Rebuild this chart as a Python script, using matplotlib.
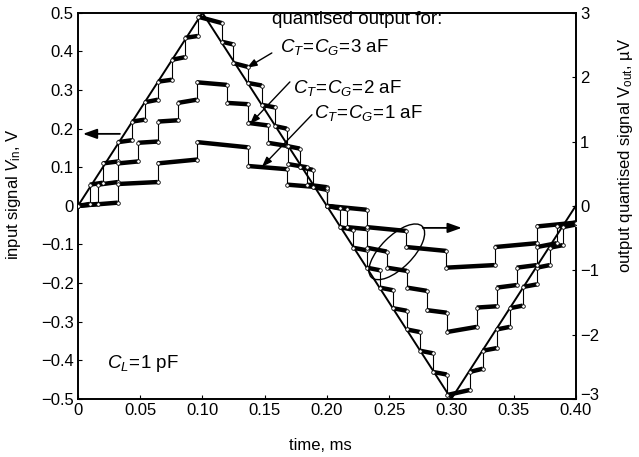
import matplotlib
matplotlib.use("Agg")
import matplotlib.pyplot as plt
from matplotlib.patches import Ellipse
from matplotlib.transforms import IdentityTransform, offset_copy

plt.rcParams['font.family'] = ['Liberation Sans', 'DejaVu Sans']
plt.rcParams['mathtext.fontset'] = 'custom'
plt.rcParams['mathtext.rm'] = 'Liberation Sans'
plt.rcParams['mathtext.it'] = 'Liberation Sans:italic'
plt.rcParams['font.size'] = 12

# input triangle (ms, V)
t_in = [0, 0.1, 0.3, 0.4]
v_in = [0, 0.5, -0.5, 0]

# quantised outputs (uV): jump times in ms, level at start / end of each flat run
jumps_3af = [0.0096, 0.0201, 0.0321, 0.0434, 0.0538, 0.0643, 0.0755, 0.0859, 0.0964,
             0.1157, 0.1245, 0.1365, 0.1478, 0.1582, 0.1679, 0.1783, 0.1888, 0.2000,
             0.2104, 0.2209, 0.2321, 0.2426, 0.2530, 0.2643, 0.2747, 0.2851, 0.2964,
             0.3149, 0.3253, 0.3365, 0.3470, 0.3574, 0.3687, 0.3791, 0.3896]
start_3af = [0, 0.33, 0.66, 0.99, 1.31, 1.61, 1.93, 2.27, 2.61, 2.94,
             2.55, 2.22, 1.91, 1.57, 1.24, 0.93, 0.60, 0.29, 0.0, -0.33, -0.65,
             -0.96, -1.27, -1.59, -1.92, -2.25, -2.58, -2.94,
             -2.58, -2.25, -1.92, -1.59, -1.26, -0.96, -0.65, -0.33]
end_3af = [0.03, 0.36, 0.69, 1.02, 1.34, 1.65, 1.96, 2.31, 2.64, 2.84,
           2.51, 2.16, 1.87, 1.53, 1.20, 0.89, 0.56, 0.25, -0.04, -0.37, -0.69,
           -1.00, -1.31, -1.63, -1.96, -2.29, -2.62, -2.86,
           -2.53, -2.21, -1.88, -1.55, -1.22, -0.92, -0.61, -0.29]

jumps_2af = [0.0161, 0.0321, 0.0482, 0.0643, 0.0803, 0.0956,
             0.1197, 0.1365, 0.1526, 0.1687, 0.1839, 0.2000, 0.2161, 0.2321,
             0.2482, 0.2643, 0.2803, 0.2964,
             0.3205, 0.3365, 0.3526, 0.3687, 0.3847]
start_2af = [0, 0.33, 0.66, 0.98, 1.31, 1.60, 1.92,
             1.60, 1.29, 0.98, 0.65, 0.33, 0.0, -0.33, -0.65, -0.96, -1.27, -1.62,
             -1.96, -1.58, -1.27, -0.96, -0.64, -0.32]
end_2af = [0.03, 0.37, 0.69, 1.00, 1.33, 1.65, 1.88,
           1.58, 1.25, 0.93, 0.60, 0.29, -0.05, -0.36, -0.71, -1.01, -1.32, -1.66,
           -1.88, -1.56, -1.23, -0.92, -0.58, -0.26]

jumps_1af = [0.032, 0.064, 0.096, 0.1365, 0.168, 0.200, 0.232, 0.264, 0.296,
             0.3349, 0.3687]
start_1af = [0, 0.34, 0.66, 0.99, 0.62, 0.33, 0.0, -0.33, -0.64, -0.96, -0.64, -0.32]
end_1af = [0.05, 0.37, 0.72, 0.91, 0.57, 0.28, -0.06, -0.39, -0.70, -0.92, -0.58, -0.26]

x_ticks = [0, 0.05, 0.10, 0.15, 0.20, 0.25, 0.30, 0.35, 0.40]
x_labels = ['0', '0.05', '0.10', '0.15', '0.20', '0.25', '0.30', '0.35', '0.40']
yl_ticks = [0.5, 0.4, 0.3, 0.2, 0.1, 0, -0.1, -0.2, -0.3, -0.4, -0.5]
yl_labels = ['0.5', '0.4', '0.3', '0.2', '0.1', '0', '\u22120.1', '\u22120.2',
             '\u22120.3', '\u22120.4', '\u22120.5']
yr_ticks = [3, 2, 1, 0, -1, -2, -3]
yr_labels = ['3', '2', '1', '0', '\u22121', '\u22122', '\u22123']


def draw_staircase(ax, jumps, starts, ends):
    """thick flat runs, thin vertical jumps, open circles at run ends"""
    edges = [0.0] + jumps + [0.4]
    for i in range(len(starts)):
        ax.plot([edges[i], edges[i + 1]], [starts[i], ends[i]], color='black',
                lw=3.2, solid_capstyle='butt', zorder=3)
        if i + 1 < len(starts):
            ax.plot([edges[i + 1]] * 2, [ends[i], starts[i + 1]], color='black',
                    lw=0.8, zorder=2)
    kw = dict(ls='none', marker='o', ms=2.6, mfc='white', mec='black', mew=0.6, zorder=4)
    ax.plot(edges[:-1], starts, **kw)
    ax.plot(edges[1:], ends, **kw)


fig = plt.figure(figsize=(6.39, 4.57), dpi=100)
ax = fig.add_subplot(111)
fig.subplots_adjust(left=0.122, right=0.901, bottom=0.127, top=0.972)
ax2 = ax.twinx()

ax.plot(t_in, v_in, color='black', lw=1.4, zorder=2)
ax.set_xlim(0, 0.4)
ax.set_ylim(-0.5, 0.5)
ax2.set_ylim(-3, 3)

draw_staircase(ax2, jumps_3af, start_3af, end_3af)
draw_staircase(ax2, jumps_2af, start_2af, end_2af)
draw_staircase(ax2, jumps_1af, start_1af, end_1af)

ax.set_xticks(x_ticks)
ax.set_xticklabels(x_labels)
ax.set_yticks(yl_ticks)
ax.set_yticklabels(yl_labels)
ax2.set_yticks(yr_ticks)
ax2.set_yticklabels(yr_labels)
for a in (ax, ax2):
    a.tick_params(direction='in', length=3, width=0.8, labelsize=12, pad=3)
    for s in a.spines.values():
        s.set_linewidth(1.2)

# the bottom right label sits a little raised, clear of "0.40"
fig.canvas.draw()
low = ax2.get_yticklabels()[-1]
low.set_transform(offset_copy(low.get_transform(), fig=fig, x=0, y=5, units='dots'))

ax.set_xlabel('time, ms')
ax.xaxis.set_label_coords(0.486, -0.1)
ax.set_ylabel('input signal $V_{\\rm in}$, V')
ax.yaxis.set_label_coords(-0.11, 0.53)
ax2.set_ylabel('output quantised signal V$_{\\rm out}$, \u00b5V')
ax2.yaxis.set_label_coords(1.08, 0.63)

# labels and leaders
ax.text(0.1558, 0.482, 'quantised output for:', ha='left', va='center', fontsize=13.5)
ax.text(0.1622, 0.412, '$C_T\\!=\\!C_G\\!=\\!3$ aF', ha='left', va='center', fontsize=13.5)
ax.text(0.1727, 0.306, '$C_T\\!=\\!C_G\\!=\\!2$ aF', ha='left', va='center', fontsize=13.5)
ax.text(0.1900, 0.241, '$C_T\\!=\\!C_G\\!=\\!1$ aF', ha='left', va='center', fontsize=13.5)
ax.text(0.0233, -0.407, '$C_L\\!=\\!1$ pF', ha='left', va='center', fontsize=13.5)

leader = dict(arrowstyle='-|>,head_length=0.5,head_width=0.18', color='black',
              lw=1.0, shrinkA=0, shrinkB=0)
ax.annotate('', xy=(0.1357, 0.3575), xytext=(0.1558, 0.396), arrowprops=leader)
ax.annotate('', xy=(0.1382, 0.212), xytext=(0.1703, 0.321), arrowprops=leader)
ax.annotate('', xy=(0.1478, 0.101), xytext=(0.1880, 0.236), arrowprops=leader)

big = dict(arrowstyle='-|>,head_length=0.7,head_width=0.25', color='black',
           lw=1.3, shrinkA=0, shrinkB=0)
ax.annotate('', xy=(0.004, 0.1865), xytext=(0.0337, 0.1865), arrowprops=big)
ax.annotate('', xy=(0.3084, -0.057), xytext=(0.277, -0.057), arrowprops=big)

cx, cy = ax.transData.transform((0.2562, -0.119))
fig.add_artist(Ellipse((cx, cy), 72, 32, angle=45, transform=IdentityTransform(),
                       fill=False, lw=1.0, color='black'))

fig.savefig('out.png', dpi=100)
